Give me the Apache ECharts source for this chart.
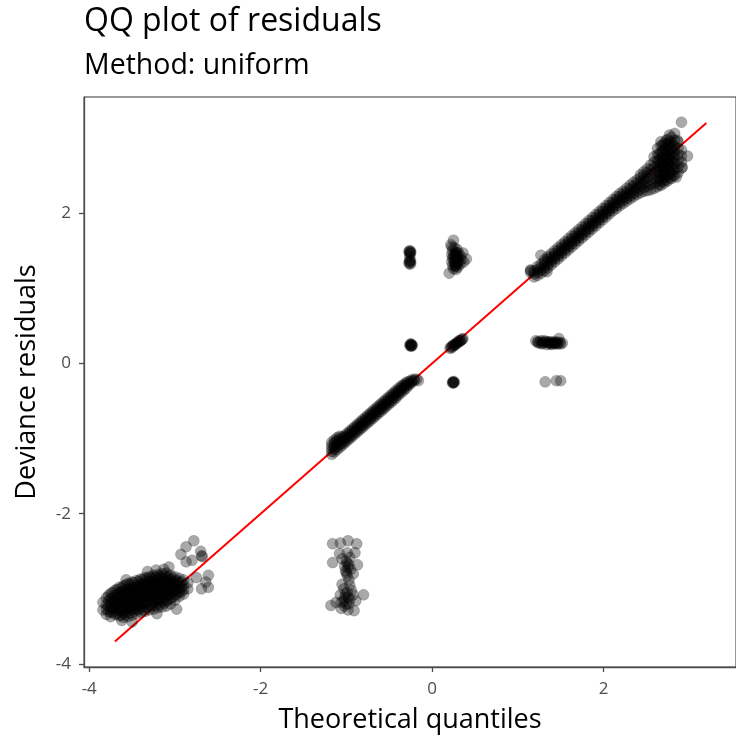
<!DOCTYPE html>
<html>
<head>
<meta charset="utf-8">
<title>QQ plot of residuals</title>
<script src="https://cdn.jsdelivr.net/npm/echarts@6/dist/echarts.min.js"></script>
<style>
  html, body { margin: 0; padding: 0; background: #fff; }
  #chart { width: 736px; height: 742px; }
</style>
</head>
<body>
<div id="chart"></div>
<script>
// tick positions
const xTicks = [-4, -2, 0, 2];
const yTicks = [-4, -2, 0, 2];

// reference line (theoretical = observed)
const refLine = [[-3.7, -3.7], [3.2, 3.2]];

// lower-left blob, columns of [x, [y...]]
const blobA = [
  [-3.84, [-3.18, -3.28]],
  [-3.80, [-3.12, -3.21, -3.27, -3.34]],
  [-3.775, [-3.09, -3.16, -3.23, -3.30]],
  [-3.75, [-3.06, -3.13, -3.19, -3.26, -3.31, -3.37]],
  [-3.725, [-3.05, -3.12, -3.18, -3.24, -3.31]],
  [-3.70, [-3.02, -3.09, -3.16, -3.21, -3.27, -3.34]],
  [-3.675, [-3.01, -3.08, -3.14, -3.20, -3.26, -3.33]],
  [-3.65, [-2.98, -3.05, -3.11, -3.18, -3.23, -3.29, -3.36]],
  [-3.625, [-2.99, -3.05, -3.11, -3.17, -3.23, -3.29, -3.35]],
  [-3.60, [-2.96, -3.02, -3.08, -3.15, -3.20, -3.26, -3.32, -3.38]],
  [-3.575, [-2.95, -3.03, -3.09, -3.15, -3.21, -3.27, -3.34]],
  [-3.55, [-2.93, -3.00, -3.06, -3.12, -3.19, -3.24, -3.30, -3.37]],
  [-3.525, [-2.94, -3.01, -3.07, -3.13, -3.19, -3.26, -3.32]],
  [-3.50, [-2.91, -2.98, -3.04, -3.10, -3.16, -3.23, -3.28, -3.35]],
  [-3.475, [-2.92, -2.99, -3.05, -3.11, -3.17, -3.24, -3.30]],
  [-3.45, [-2.89, -2.96, -3.02, -3.09, -3.14, -3.20, -3.27, -3.33]],
  [-3.425, [-2.90, -2.97, -3.03, -3.09, -3.15, -3.22, -3.28]],
  [-3.40, [-2.87, -2.94, -3.00, -3.06, -3.13, -3.18, -3.25, -3.31]],
  [-3.375, [-2.88, -2.95, -3.01, -3.07, -3.13, -3.20, -3.27]],
  [-3.35, [-2.85, -2.92, -2.98, -3.04, -3.10, -3.17, -3.23, -3.30]],
  [-3.325, [-2.86, -2.93, -2.99, -3.05, -3.11, -3.18, -3.25]],
  [-3.30, [-2.84, -2.90, -2.96, -3.03, -3.08, -3.14, -3.21, -3.28]],
  [-3.275, [-2.85, -2.91, -2.97, -3.03, -3.09, -3.16, -3.23]],
  [-3.25, [-2.82, -2.88, -2.95, -3.00, -3.06, -3.12, -3.19, -3.27]],
  [-3.225, [-2.84, -2.90, -2.96, -3.02, -3.08, -3.15, -3.22]],
  [-3.20, [-2.81, -2.87, -2.93, -2.99, -3.05, -3.11, -3.18, -3.25]],
  [-3.175, [-2.83, -2.89, -2.95, -3.01, -3.07, -3.14, -3.21]],
  [-3.15, [-2.80, -2.86, -2.92, -2.98, -3.04, -3.10, -3.17, -3.24]],
  [-3.125, [-2.82, -2.88, -2.94, -3.00, -3.06, -3.12, -3.19]],
  [-3.10, [-2.79, -2.85, -2.91, -2.97, -3.03, -3.09, -3.16, -3.23]],
  [-3.075, [-2.84, -2.90, -2.96, -3.02, -3.08, -3.15]],
  [-3.05, [-2.82, -2.88, -2.94, -3.00, -3.06, -3.13, -3.20]],
  [-3.025, [-2.86, -2.92, -2.98, -3.04, -3.11]],
  [-3.00, [-2.84, -2.90, -2.96, -3.02, -3.08, -3.15]],
  [-2.975, [-2.89, -2.95, -3.01, -3.07]],
  [-2.95, [-2.86, -2.92, -2.98, -3.04, -3.10]],
  [-2.925, [-2.91, -2.98, -3.04]],
  [-2.90, [-2.88, -2.95, -3.01, -3.07]],
  [-2.85, [-2.92, -3.00]]
];
const blobAEdge = [
  [-3.57, -2.88], [-3.32, -2.77], [-3.22, -2.75], [-3.07, -2.71], [-3.13, -2.74],
  [-3.62, -3.42], [-3.50, -3.44], [-3.21, -3.33], [-2.98, -3.27],
  [-2.78, -2.36], [-2.87, -2.44], [-2.93, -2.54], [-2.70, -2.50], [-2.69, -2.56],
  [-2.68, -2.57], [-2.87, -2.64], [-2.80, -2.62], [-2.61, -2.82], [-2.64, -2.91],
  [-2.61, -2.98], [-2.69, -3.00], [-2.75, -2.85]
];

// middle band along the line, columns of [x, [y...]]
const bandB = [
  [-1.17, [-1.21, -1.17, -1.13, -1.09, -1.05]],
  [-1.14, [-1.18, -1.14, -1.10, -1.06, -1.02]],
  [-1.11, [-1.15, -1.11, -1.07, -1.03, -0.99]],
  [-1.08, [-1.12, -1.08, -1.04, -1.00, -0.97]],
  [-1.05, [-1.09, -1.06, -1.02, -0.98]],
  [-1.02, [-1.06, -1.03, -0.99, -0.96]],
  [-0.99, [-1.03, -1.00, -0.96, -0.93]],
  [-0.96, [-1.00, -0.97, -0.93, -0.90]],
  [-0.93, [-0.97, -0.94, -0.90, -0.87]],
  [-0.90, [-0.94, -0.91, -0.87, -0.84]],
  [-0.87, [-0.91, -0.88, -0.84, -0.81]],
  [-0.84, [-0.88, -0.85, -0.81, -0.78]],
  [-0.81, [-0.85, -0.82, -0.78, -0.75]],
  [-0.78, [-0.82, -0.79, -0.75, -0.72]],
  [-0.75, [-0.79, -0.76, -0.72, -0.69]],
  [-0.72, [-0.76, -0.73, -0.69, -0.66]],
  [-0.69, [-0.73, -0.70, -0.66, -0.63]],
  [-0.66, [-0.70, -0.67, -0.63, -0.60]],
  [-0.63, [-0.67, -0.64, -0.60, -0.57]],
  [-0.60, [-0.64, -0.61, -0.57, -0.54]],
  [-0.57, [-0.61, -0.58, -0.54, -0.51]],
  [-0.54, [-0.58, -0.55, -0.51, -0.48]],
  [-0.51, [-0.55, -0.52, -0.48, -0.45]],
  [-0.48, [-0.52, -0.49, -0.45, -0.42]],
  [-0.45, [-0.49, -0.46, -0.42, -0.39]],
  [-0.42, [-0.46, -0.43, -0.39, -0.36]],
  [-0.39, [-0.42, -0.39, -0.36, -0.33]],
  [-0.36, [-0.39, -0.36, -0.33, -0.30]],
  [-0.33, [-0.36, -0.33, -0.30, -0.28]],
  [-0.30, [-0.33, -0.30, -0.27, -0.25]],
  [-0.27, [-0.29, -0.27, -0.24]],
  [-0.24, [-0.26, -0.24, -0.22]],
  [-0.21, [-0.23, -0.21]],
  [-0.18, [-0.21]],
  [-0.16, [-0.23]]
];

// small clusters near zero
const clusterC1 = [
  [-0.26, 1.50], [-0.25, 1.49], [-0.26, 1.48], [-0.27, 1.49], [-0.25, 1.47], [-0.26, 1.46],
  [-0.26, 1.42], [-0.26, 1.37], [-0.25, 1.36], [-0.26, 1.35], [-0.27, 1.34], [-0.25, 1.33],
  [-0.26, 1.32]
];
const clusterC2 = [
  [-0.25, 0.25], [-0.24, 0.24], [-0.25, 0.23], [-0.24, 0.25], [-0.26, 0.24], [-0.23, 0.24],
  [-0.25, 0.26], [-0.24, 0.23]
];
const clusterC3 = [
  [0.21, 0.20], [0.22, 0.22], [0.23, 0.21], [0.24, 0.23], [0.25, 0.25], [0.26, 0.24],
  [0.27, 0.25], [0.28, 0.26], [0.29, 0.27], [0.30, 0.28], [0.31, 0.30], [0.32, 0.29],
  [0.33, 0.30], [0.34, 0.31], [0.35, 0.32], [0.36, 0.33]
];
const clusterC4 = [
  [0.24, -0.25], [0.25, -0.26], [0.25, -0.24], [0.24, -0.26], [0.26, -0.25], [0.25, -0.25]
];
const clusterC5 = [
  [0.25, 1.64], [0.20, 1.20], [0.40, 1.39], [0.36, 1.47], [0.23, 1.55], [0.26, 1.54],
  [0.29, 1.52], [0.24, 1.50], [0.28, 1.48], [0.31, 1.47], [0.23, 1.45], [0.26, 1.44],
  [0.30, 1.42], [0.33, 1.43], [0.24, 1.40], [0.27, 1.39], [0.31, 1.37], [0.34, 1.38],
  [0.23, 1.35], [0.26, 1.34], [0.30, 1.33], [0.33, 1.32], [0.24, 1.30], [0.27, 1.29],
  [0.30, 1.28], [0.25, 1.26], [0.28, 1.25], [0.37, 1.35], [0.22, 1.58],
  [0.27, 1.46], [0.28, 1.41], [0.26, 1.37], [0.29, 1.35], [0.27, 1.31], [0.29, 1.45],
  [0.25, 1.42], [0.28, 1.30]
];

// vertical cluster around x = -1
const clusterD = [
  [-1.16, -2.40], [-1.07, -2.39], [-0.98, -2.36], [-0.88, -2.40], [-1.08, -2.53],
  [-0.99, -2.52], [-0.90, -2.52], [-1.16, -2.65], [-1.05, -2.60], [-1.00, -2.63],
  [-0.96, -2.58], [-1.02, -2.70], [-0.97, -2.68], [-1.01, -2.76], [-0.95, -2.74],
  [-0.99, -2.82], [-0.92, -2.80], [-0.97, -2.88], [-1.05, -2.94], [-0.96, -2.95],
  [-1.03, -3.00], [-0.94, -3.02], [-0.99, -3.05], [-1.07, -3.08], [-0.92, -3.08],
  [-1.02, -3.12], [-0.96, -3.14], [-1.06, -3.18], [-0.89, -3.16], [-1.00, -3.20],
  [-1.18, -3.22], [-1.06, -3.26], [-0.91, -3.29], [-0.80, -3.08], [-0.98, -3.28],
  [-1.12, -3.18], [-0.87, -2.68],
  [-0.99, -2.66], [-0.98, -2.72], [-1.00, -2.79], [-1.01, -3.07], [-0.98, -3.11],
  [-1.03, -3.16], [-0.97, -3.20], [-1.02, -3.23]
];

// upper band, columns of [x, [y...]]
const bandE = [
  [1.15, [1.21, 1.24]],
  [1.19, [1.15, 1.19, 1.23]],
  [1.23, [1.17, 1.21, 1.25, 1.29]],
  [1.27, [1.20, 1.24, 1.28, 1.32]],
  [1.31, [1.23, 1.27, 1.31, 1.35, 1.38]],
  [1.35, [1.27, 1.31, 1.35, 1.39, 1.42]],
  [1.39, [1.31, 1.35, 1.38, 1.42, 1.46]],
  [1.43, [1.35, 1.39, 1.42, 1.46, 1.50]],
  [1.47, [1.39, 1.43, 1.46, 1.50, 1.54]],
  [1.51, [1.43, 1.47, 1.50, 1.54, 1.58]],
  [1.55, [1.47, 1.51, 1.54, 1.58, 1.62]],
  [1.59, [1.51, 1.55, 1.58, 1.62, 1.66]],
  [1.63, [1.55, 1.59, 1.62, 1.66, 1.70]],
  [1.67, [1.59, 1.63, 1.66, 1.70, 1.74]],
  [1.71, [1.63, 1.67, 1.70, 1.74, 1.78]],
  [1.75, [1.67, 1.71, 1.74, 1.78, 1.82]],
  [1.79, [1.71, 1.75, 1.78, 1.82, 1.86]],
  [1.83, [1.75, 1.79, 1.82, 1.86, 1.90]],
  [1.87, [1.79, 1.83, 1.86, 1.90, 1.94]],
  [1.91, [1.83, 1.87, 1.90, 1.94, 1.98]],
  [1.95, [1.87, 1.91, 1.94, 1.98, 2.02]],
  [1.99, [1.91, 1.95, 1.98, 2.02, 2.06]],
  [2.03, [1.95, 1.99, 2.02, 2.06, 2.10]],
  [2.07, [1.99, 2.03, 2.06, 2.10, 2.14]],
  [2.11, [2.03, 2.07, 2.10, 2.14, 2.18]],
  [2.15, [2.06, 2.10, 2.14, 2.18, 2.22]],
  [2.19, [2.10, 2.14, 2.18, 2.22, 2.26]],
  [2.23, [2.13, 2.17, 2.21, 2.25, 2.29]],
  [2.27, [2.16, 2.20, 2.24, 2.28, 2.33]],
  [2.31, [2.19, 2.23, 2.27, 2.32, 2.37]],
  [2.35, [2.22, 2.26, 2.31, 2.36, 2.41]],
  [2.39, [2.25, 2.29, 2.34, 2.39, 2.44]],
  [2.43, [2.27, 2.32, 2.37, 2.42, 2.47, 2.51]],
  [2.47, [2.29, 2.34, 2.40, 2.45, 2.50, 2.55]],
  [2.51, [2.30, 2.36, 2.42, 2.48, 2.54, 2.59]],
  [2.55, [2.31, 2.38, 2.45, 2.52, 2.58, 2.64]],
  [2.59, [2.33, 2.40, 2.47, 2.54, 2.61, 2.68, 2.75]],
  [2.63, [2.35, 2.42, 2.49, 2.56, 2.63, 2.70, 2.78, 2.86]],
  [2.65, [2.38, 2.46, 2.54, 2.62, 2.70, 2.78]],
  [2.67, [2.37, 2.44, 2.51, 2.59, 2.66, 2.73, 2.81, 2.90]],
  [2.69, [2.42, 2.50, 2.58, 2.66, 2.74, 2.82, 2.90]],
  [2.71, [2.40, 2.47, 2.54, 2.62, 2.70, 2.77, 2.85, 2.93]],
  [2.73, [2.44, 2.52, 2.60, 2.68, 2.76, 2.84, 2.92]],
  [2.75, [2.43, 2.50, 2.58, 2.66, 2.74, 2.82, 2.90, 2.98]],
  [2.77, [2.47, 2.55, 2.63, 2.71, 2.79, 2.87, 2.95]],
  [2.79, [2.46, 2.53, 2.61, 2.69, 2.77, 2.85, 2.93, 3.01]],
  [2.81, [2.50, 2.58, 2.66, 2.74, 2.82, 2.90]],
  [2.83, [2.50, 2.58, 2.66, 2.74, 2.82, 2.89, 2.97]],
  [2.87, [2.54, 2.62, 2.70, 2.78, 2.86, 2.95]],
  [2.91, [2.60, 2.68, 2.76, 2.84]]
];
const bandEEdge = [
  [1.15, 1.24], [1.34, 1.22], [1.27, 1.44],
  [2.91, 3.21], [2.67, 2.95], [2.98, 2.76], [2.85, 2.48], [2.92, 2.61],
  [2.77, 3.04], [2.83, 3.06], [2.73, 2.97], [2.86, 2.97]
];

// cluster right of zero at small residuals
const clusterF = [
  [1.21, 0.30], [1.24, 0.29], [1.27, 0.30], [1.30, 0.28], [1.33, 0.29], [1.36, 0.27],
  [1.39, 0.28], [1.42, 0.27], [1.45, 0.26], [1.48, 0.33], [1.50, 0.26], [1.52, 0.27],
  [1.28, 0.26], [1.34, 0.25], [1.40, 0.25], [1.46, 0.28],
  [1.25, 0.27], [1.31, 0.30], [1.37, 0.29], [1.43, 0.29], [1.49, 0.28], [1.29, 0.27],
  [1.35, 0.28], [1.41, 0.27], [1.47, 0.26], [1.23, 0.28], [1.38, 0.26], [1.44, 0.27],
  [1.32, -0.245], [1.45, -0.23], [1.50, -0.23]
];

function fromColumns(list) {
  return list.flatMap(([x, ys]) => ys.map(y => [x, y]));
}

const points = [].concat(
  fromColumns(blobA), blobAEdge, fromColumns(bandB), clusterC1, clusterC2, clusterC3,
  clusterC4, clusterC5, clusterD, fromColumns(bandE), bandEEdge, clusterF
);

const font = 'Open Sans';
const chart = echarts.init(document.getElementById('chart'));
chart.setOption({
  animation: false,
  backgroundColor: '#fff',
  textStyle: { fontFamily: font },
  title: [
    { text: 'QQ plot of residuals', left: 84, top: 6, padding: 0,
      textStyle: { fontSize: 32, fontWeight: 'normal', color: '#000', fontFamily: font } },
    { text: 'Method: uniform', left: 84, top: 51, padding: 0,
      textStyle: { fontSize: 28.5, fontWeight: 'normal', color: '#000', fontFamily: font } }
  ],
  grid: { left: 84, top: 97, width: 658, height: 570, show: true,
          borderColor: '#333', borderWidth: 1 },
  xAxis: {
    type: 'value', min: -4.061, max: 3.546,
    splitLine: { show: false },
    axisLine: { onZero: false, lineStyle: { color: '#4d4d4d', width: 1.3 } },
    axisTick: { customValues: xTicks, length: 5, lineStyle: { color: '#4d4d4d', width: 1.3 } },
    axisLabel: { customValues: xTicks, color: '#4d4d4d', fontSize: 17, margin: 14 },
    name: 'Theoretical quantiles', nameLocation: 'middle', nameGap: 40,
    nameTextStyle: { fontSize: 27, color: '#000' }
  },
  yAxis: {
    type: 'value', min: -4.04, max: 3.545,
    splitLine: { show: false },
    axisLine: { onZero: false, lineStyle: { color: '#4d4d4d', width: 1.3 } },
    axisTick: { customValues: yTicks, length: 5, lineStyle: { color: '#4d4d4d', width: 1.3 } },
    axisLabel: { customValues: yTicks, color: '#4d4d4d', fontSize: 17, margin: 13 },
    name: 'Deviance residuals', nameLocation: 'middle', nameGap: 43,
    nameTextStyle: { fontSize: 27, color: '#000' }
  },
  series: [
    {
      type: 'line', data: refLine, symbol: 'none', z: 1,
      lineStyle: { color: '#ff0000', width: 2 }
    },
    {
      type: 'scatter', data: points, symbol: 'circle', symbolSize: 11, z: 2,
      itemStyle: { color: 'rgba(0,0,0,0.42)', borderColor: 'rgba(0,0,0,0.25)', borderWidth: 0.8 }
    }
  ]
});
</script>
</body>
</html>
